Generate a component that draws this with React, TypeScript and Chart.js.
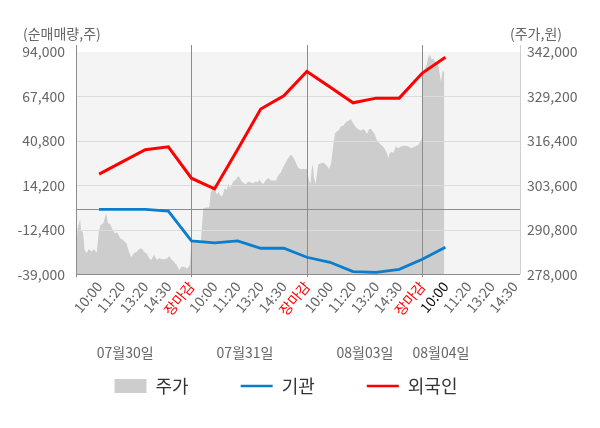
import React, { useEffect, useRef } from 'react';
import { Chart, registerables } from 'chart.js';

Chart.register(...registerables);

// ---------- data ----------
const DAY_MINUTES = 390;
const X_MAX = 1500;
const SLOT = DAY_MINUTES / 5;

const TIME_LABELS = [
  '10:00', '11:20', '13:20', '14:30', '장마감',
  '10:00', '11:20', '13:20', '14:30', '장마감',
  '10:00', '11:20', '13:20', '14:30', '장마감',
  '10:00', '11:20', '13:20', '14:30',
];
const CURRENT_LABEL_INDEX = 15;
const CLOSE_LABEL = '장마감';

const DATE_LABELS = ['07월30일', '07월31일', '08월03일', '08월04일'];
const DATE_TICK_MINUTES = [166, 571, 976, 1233];
const DAY_BREAKS = [0, 390, 780, 1170];

const LEFT_TICKS = [94000, 67400, 40800, 14200, -12400, -39000];
const RIGHT_TICKS = [342000, 329200, 316400, 303600, 290800, 278000];

const FLOW_MINUTES = [78, 156, 234, 312, 390, 468, 546, 624, 702, 780, 858, 936, 1014, 1092, 1170, 1248];
const INSTITUTION = [-200, -200, -200, -1200, -19050, -20250, -19050, -23400, -23400, -28800, -31800, -37400, -37800, -36000, -30000, -22800];
const FOREIGN = [20900, 28300, 35500, 37300, 18500, 12100, 35700, 59900, 67800, 82400, 73000, 63600, 66400, 66400, 81400, 90800];

const PRICE_MINUTES = [
  0, 5, 14, 17, 24, 29, 36, 44, 52, 61, 70, 77, 83, 92, 102, 108, 115, 123, 131, 140, 149, 156, 165, 171, 179, 187, 196, 205, 213, 221, 230, 239, 247, 254, 264, 273, 281, 291, 300, 308, 315, 322, 331, 340, 349, 356, 365, 376, 385,
  390, 405, 422, 430, 439, 450, 455, 462, 466, 471, 475, 482, 486, 493, 498, 502, 509, 515, 520, 526, 531, 541, 548, 554, 560, 568, 574, 582, 590, 599, 606, 613, 619, 626, 633, 642, 650, 658, 667, 676, 684, 692, 700, 710, 717, 725, 732, 740, 746, 751, 759, 768, 777,
  780, 782, 787, 792, 796, 800, 804, 810, 814, 819, 828, 835, 841, 848, 855, 862, 866, 871, 875, 881, 889, 895, 903, 909, 915, 922, 928, 933, 940, 948, 956, 963, 971, 976, 983, 990, 997, 1003, 1010, 1017, 1024, 1030, 1037, 1044, 1051, 1055, 1060, 1067, 1073, 1080, 1089, 1098, 1107, 1116, 1123, 1132, 1141, 1150, 1157, 1163, 1169,
  1170, 1172, 1179, 1185, 1190, 1196, 1202, 1207, 1213, 1219, 1224, 1230, 1233, 1238, 1244,
];
const PRICE_VALUES = [
  284500, 290800, 293900, 290800, 289900, 285000, 284100, 285300, 284500, 285300, 284100, 290300, 292200, 292700, 295600, 292700, 292500, 291000, 289800, 290000, 288400, 288100, 287400, 286900, 284500, 282900, 284100, 284500, 285200, 285500, 284500, 283900, 282600, 282100, 283600, 282100, 282600, 282300, 282300, 282600, 283300, 282300, 281600, 280700, 279200, 280200, 280200, 279700, 280700,
  287600, 287600, 287600, 297000, 297200, 297200, 301400, 303300, 304200, 302500, 300900, 301800, 300900, 300400, 301400, 302800, 302300, 304200, 302800, 303700, 304700, 305400, 306300, 305700, 304700, 304200, 303900, 304700, 304400, 304200, 304700, 304400, 305200, 304400, 304000, 305200, 305700, 305000, 305000, 305000, 306600, 307300, 308800, 310500, 311400, 312400, 311900, 310700, 309500, 308600, 308300, 308300, 308300,
  308300, 307100, 305200, 304000, 308100, 309700, 305700, 304000, 307100, 309700, 310000, 310200, 309800, 309200, 308300, 310000, 312900, 316200, 318600, 319100, 319600, 320600, 320800, 321500, 322000, 322300, 322700, 322000, 321000, 320100, 319600, 319400, 319800, 319400, 318400, 319800, 319800, 319100, 318200, 316500, 315800, 315300, 314800, 314000, 312700, 311400, 312900, 313300, 312900, 314800, 314300, 314800, 315000, 315000, 314800, 314300, 314600, 315000, 315300, 316200, 317200,
  331100, 335000, 337400, 338300, 340400, 341200, 339800, 340100, 339300, 338800, 338300, 335000, 333500, 336400, 336400,
];

// ---------- styles ----------
const FONT = "'Noto Sans CJK KR', 'Noto Sans', sans-serif";
const TICK_COLOR = '#666666';
const PRICE_FILL = '#cdcdcd';
const INST_COLOR = '#0a7dcd';
const FOREIGN_COLOR = '#ff0000';
const PLOT_BG = '#f4f4f4';
const GRID_COLOR = '#dcdcdc';
const DARK_LINE = '#8c8c8c';

const fmt = (v: number) => v.toLocaleString('en-US');

const decorPlugin = {
  id: 'decor',
  beforeDraw(chart: any) {
    const { ctx, chartArea: a } = chart;
    ctx.save();
    ctx.fillStyle = PLOT_BG;
    ctx.fillRect(a.left, a.top, a.right - a.left, a.bottom - a.top);
    ctx.restore();
  },
  afterDatasetDraw(chart: any, args: any) {
    if (args.index !== 0) return;
    const { ctx, chartArea: a, scales } = chart;
    const y = scales.y;
    const x = scales.x;
    const line = (x1: number, y1: number, x2: number, y2: number) => {
      ctx.beginPath();
      ctx.moveTo(x1, y1);
      ctx.lineTo(x2, y2);
      ctx.stroke();
    };
    ctx.save();
    ctx.lineWidth = 1;
    ctx.strokeStyle = GRID_COLOR;
    const top = Math.max(...LEFT_TICKS);
    const bottom = Math.min(...LEFT_TICKS);
    for (const v of LEFT_TICKS) {
      if (v === top || v === bottom) continue;
      const py = Math.round(y.getPixelForValue(v)) + 0.5;
      line(a.left, py, a.right, py);
    }
    ctx.strokeStyle = '#cfcfcf';
    line(Math.round(a.right) + 0.5, a.top - 7, Math.round(a.right) + 0.5, a.bottom);
    ctx.strokeStyle = DARK_LINE;
    const zy = Math.round(y.getPixelForValue(0)) + 0.5;
    line(a.left, zy, a.right, zy);
    const by = Math.round(a.bottom) + 0.5;
    line(a.left, by, a.right, by);
    for (const m of DAY_BREAKS) {
      const px = Math.round(x.getPixelForValue(m)) + 0.5;
      line(px, a.top - 7, px, a.bottom + 3);
    }
    ctx.restore();
  },
  afterDraw(chart: any) {
    const { ctx, chartArea: a } = chart;
    ctx.save();
    ctx.font = `14px ${FONT}`;
    ctx.fillStyle = TICK_COLOR;
    ctx.textBaseline = 'middle';
    ctx.textAlign = 'left';
    ctx.fillText('(순매매량,주)', a.left - 53, a.top - 18);
    ctx.textAlign = 'right';
    ctx.fillText('(주가,원)', a.right + 42, a.top - 18);
    ctx.restore();
  },
};

export default function App() {
  const canvasRef = useRef<HTMLCanvasElement | null>(null);

  useEffect(() => {
    document.body.style.margin = '0';
    Chart.defaults.font.family = FONT;
    const canvas = canvasRef.current;
    if (!canvas) return;

    const chart = new Chart(canvas, {
      type: 'line',
      data: {
        datasets: [
          {
            label: '주가',
            data: PRICE_MINUTES.map((m, i) => ({ x: m, y: PRICE_VALUES[i] })),
            yAxisID: 'y1',
            xAxisID: 'x',
            borderColor: 'rgba(0,0,0,0)',
            borderWidth: 0,
            backgroundColor: PRICE_FILL,
            fill: 'start',
            pointRadius: 0,
            tension: 0,
            order: 3,
          },
          {
            label: '기관',
            data: FLOW_MINUTES.map((m, i) => ({ x: m, y: INSTITUTION[i] })),
            yAxisID: 'y',
            xAxisID: 'x',
            borderColor: INST_COLOR,
            backgroundColor: INST_COLOR,
            borderWidth: 2.8,
            fill: false,
            pointRadius: 0,
            tension: 0,
            order: 2,
          },
          {
            label: '외국인',
            data: FLOW_MINUTES.map((m, i) => ({ x: m, y: FOREIGN[i] })),
            yAxisID: 'y',
            xAxisID: 'x',
            borderColor: FOREIGN_COLOR,
            backgroundColor: FOREIGN_COLOR,
            borderWidth: 3,
            fill: false,
            pointRadius: 0,
            tension: 0,
            order: 1,
          },
        ],
      },
      options: {
        responsive: false,
        animation: false,
        events: [],
        layout: { padding: { top: 52, left: -28, right: 0, bottom: 23 } },
        scales: {
          x: {
            type: 'linear',
            position: 'bottom',
            weight: 1,
            min: 0,
            max: X_MAX,
            grid: { display: false, drawTicks: false },
            border: { display: false },
            afterBuildTicks: (s: any) => {
              s.ticks = TIME_LABELS.map((_, i) => ({ value: SLOT * (i + 1) }));
            },
            afterFit: (s: any) => {
              s.height = 50.7;
            },
            ticks: {
              autoSkip: false,
              minRotation: 50,
              maxRotation: 50,
              padding: 4,
              font: { size: 14 },
              color: (c: any) =>
                TIME_LABELS[c.index] === CLOSE_LABEL ? '#ff0000' : c.index === CURRENT_LABEL_INDEX ? '#111111' : TICK_COLOR,
              callback: (_v: any, i: number) => TIME_LABELS[i],
            },
          },
          x2: {
            type: 'linear',
            position: 'bottom',
            weight: 2,
            min: 0,
            max: X_MAX,
            grid: { display: false, drawTicks: false },
            border: { display: false },
            afterBuildTicks: (s: any) => {
              s.ticks = DATE_TICK_MINUTES.map((v) => ({ value: v }));
            },
            afterFit: (s: any) => {
              s.height = 0;
            },
            ticks: {
              autoSkip: false,
              mirror: true,
              minRotation: 0,
              maxRotation: 0,
              padding: -36,
              font: { size: 14 },
              color: TICK_COLOR,
              callback: (_v: any, i: number) => DATE_LABELS[i],
            },
          },
          y: {
            type: 'linear',
            position: 'left',
            min: Math.min(...LEFT_TICKS),
            max: Math.max(...LEFT_TICKS),
            grid: { display: false, drawTicks: false },
            border: { display: false },
            afterBuildTicks: (s: any) => {
              s.ticks = LEFT_TICKS.map((v) => ({ value: v }));
            },
            afterFit: (s: any) => {
              s.width = 104;
            },
            ticks: {
              padding: 11,
              font: { size: 14 },
              color: TICK_COLOR,
              callback: (v: any) => fmt(Number(v)),
            },
          },
          y1: {
            type: 'linear',
            position: 'right',
            min: Math.min(...RIGHT_TICKS),
            max: Math.max(...RIGHT_TICKS),
            grid: { display: false, drawTicks: false },
            border: { display: false },
            afterBuildTicks: (s: any) => {
              s.ticks = RIGHT_TICKS.map((v) => ({ value: v }));
            },
            afterFit: (s: any) => {
              s.width = 80;
            },
            ticks: {
              padding: 7,
              font: { size: 14 },
              color: TICK_COLOR,
              callback: (v: any) => fmt(Number(v)),
            },
          },
        },
        plugins: {
          tooltip: { enabled: false },
          legend: {
            display: true,
            position: 'bottom',
            labels: {
              usePointStyle: true,
              pointStyleWidth: 32,
              boxHeight: 14,
              padding: 52,
              color: '#333333',
              font: { size: 18 },
              generateLabels: (ch: any) =>
                ch.data.datasets.map((ds: any, i: number) => ({
                  text: ds.label,
                  datasetIndex: i,
                  fillStyle: i === 0 ? PRICE_FILL : 'rgba(0,0,0,0)',
                  strokeStyle: ds.borderColor,
                  lineWidth: i === 0 ? 0 : 2.5,
                  pointStyle: i === 0 ? 'rect' : 'line',
                  hidden: false,
                  fontColor: '#333333',
                })),
            },
          },
        },
      },
      plugins: [decorPlugin],
    } as any);

    return () => chart.destroy();
  }, []);

  return (
    <div style={{ width: 600, height: 428 }}>
      <canvas ref={canvasRef} width={600} height={428} />
    </div>
  );
}
